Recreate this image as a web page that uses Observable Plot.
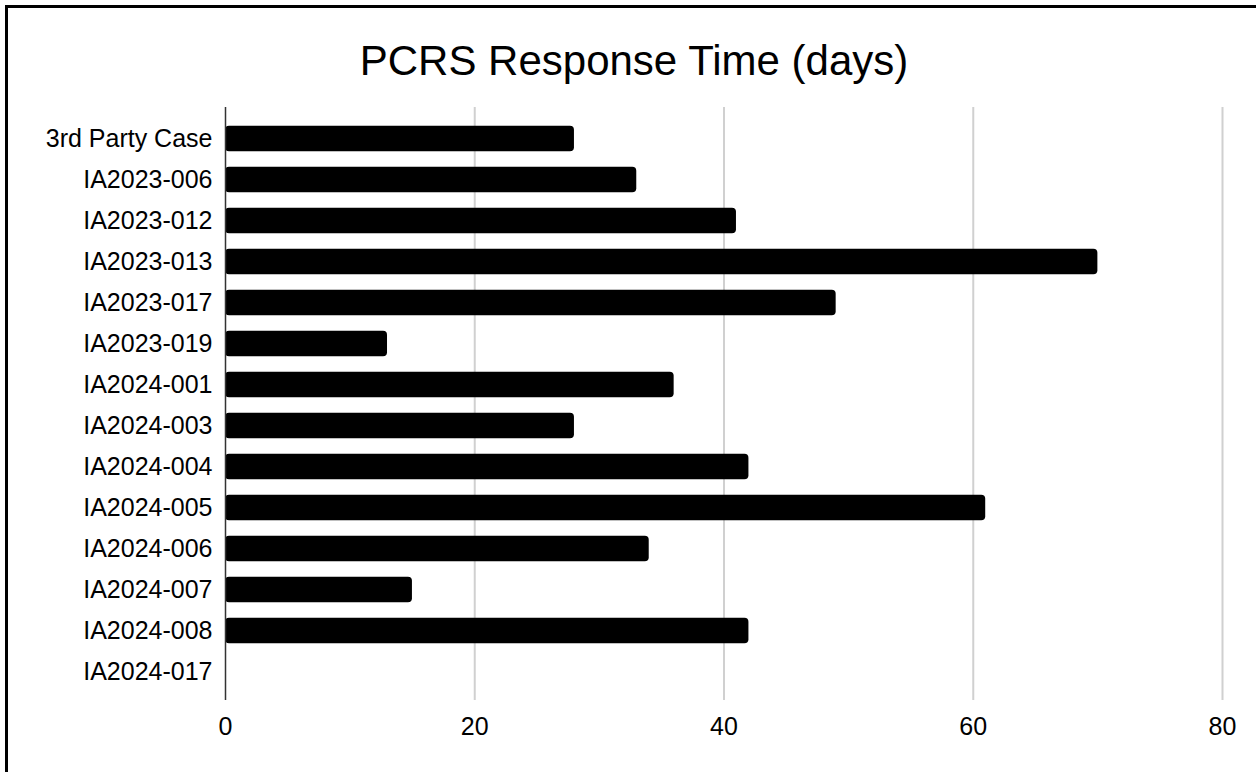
<!DOCTYPE html>
<html>
<head>
<meta charset="utf-8">
<script src="https://cdn.jsdelivr.net/npm/d3@7"></script>
<script src="https://cdn.jsdelivr.net/npm/@observablehq/plot@0.6"></script>
<style>
  html, body { margin: 0; padding: 0; background: #fff; }
  #wrap { position: relative; width: 1256px; height: 772px; overflow: hidden; font-family: "Liberation Sans", Arial, sans-serif; }
  #border { position: absolute; left: 5px; top: 5px; width: 1300px; height: 800px; border-left: 3px solid #000; border-top: 3px solid #000; }
  #title { position: absolute; left: 6px; width: 1256px; top: 40px; text-align: center; font-size: 42px; line-height: 42px; color: #000; }
  #chart { position: absolute; left: 0; top: 0; }
</style>
</head>
<body>
<div id="wrap">
  <div id="border"></div>
  <div id="chart"></div>
  <div id="title">PCRS Response Time (days)</div>
</div>
<script>
const cases = ["3rd Party Case","IA2023-006","IA2023-012","IA2023-013","IA2023-017","IA2023-019","IA2024-001","IA2024-003","IA2024-004","IA2024-005","IA2024-006","IA2024-007","IA2024-008","IA2024-017"];
const days = [28, 33, 41, 70, 49, 13, 36, 28, 42, 61, 34, 15, 42, 0];
const xTicks = [0, 20, 40, 60, 80];

const data = cases.map((c, i) => ({case: c, days: days[i]}));

const chart = Plot.plot({
  width: 1256,
  height: 772,
  marginLeft: 225,
  marginRight: 34,
  marginTop: 107,
  marginBottom: 72,
  style: {fontSize: "25px", fontFamily: "'Liberation Sans', Arial, sans-serif", color: "#000", background: "transparent", overflow: "visible"},
  x: {domain: [0, 80]},
  y: {domain: cases, padding: 0, insetTop: 7, insetBottom: 4},
  marks: [
    Plot.ruleX(xTicks.filter(d => d > 0), {stroke: "#d0d0d0", strokeWidth: 2}),
    Plot.barX(data, {y: "case", x: "days", fill: "#000", insetTop: 7.7, insetBottom: 7.7, rx: 4}),
    Plot.ruleX([0], {stroke: "#333", strokeWidth: 1.5}),
    Plot.axisX({ticks: xTicks, tickSize: 0, tickPadding: 17, label: null, tickFormat: d => String(d)}),
    Plot.axisY({tickSize: 0, tickPadding: 13, label: null})
  ]
});
document.getElementById("chart").appendChild(chart);
</script>
</body>
</html>
